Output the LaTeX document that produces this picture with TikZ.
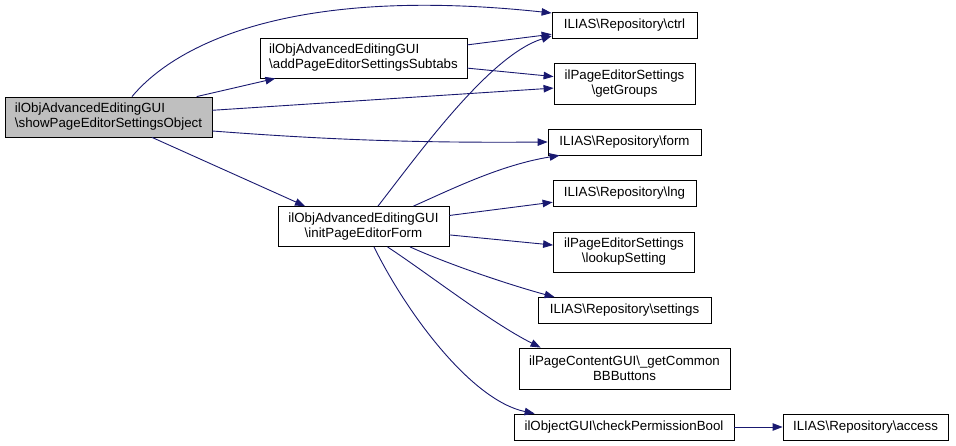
\documentclass[tikz,border=0pt]{standalone}
\usepackage{fontspec}
\setmainfont{Liberation Sans}
\usetikzlibrary{arrows.meta,calc}
\definecolor{edgeblue}{HTML}{191970}
\definecolor{boxgray}{HTML}{BFBFBF}
\newcommand\bs{\textbackslash}
\begin{document}
\begin{tikzpicture}[x=1bp,y=-1bp,
  box/.style={draw=black,line width=0.8bp,fill=white,inner sep=0pt,
    font=\fontsize{13.3bp}{15bp}\selectfont,align=center},
  lbox/.style={box,align=left},
  edge/.style={draw=edgeblue,line width=0.9bp,
    -{Triangle[length=10bp,width=7.5bp,fill=edgeblue]}}]
\useasboundingbox (0,0) rectangle (956,446);
\node[lbox,fill=boxgray,minimum width=207bp,minimum height=40bp] (main) at (108.5,117)
  {ilObjAdvancedEditingGUI\\\bs showPageEditorSettingsObject};
\node[lbox,minimum width=207bp,minimum height=40bp] (add) at (363.5,58)
  {ilObjAdvancedEditingGUI\\\bs addPageEditorSettingsSubtabs};
\node[box,minimum width=171bp,minimum height=40bp] (init) at (363.5,226.5)
  {ilObjAdvancedEditingGUI\\\bs initPageEditorForm};
\node[box,minimum width=145bp,minimum height=26bp] (ctrl) at (624.5,25)
  {ILIAS\bs Repository\bs ctrl};
\node[box,minimum width=141bp,minimum height=41bp] (groups) at (624.5,83.5)
  {ilPageEditorSettings\\\bs getGroups};
\node[box,minimum width=153bp,minimum height=26bp] (form) at (624.5,142)
  {ILIAS\bs Repository\bs form};
\node[box,minimum width=143bp,minimum height=26bp] (lng) at (624.5,193)
  {ILIAS\bs Repository\bs lng};
\node[box,minimum width=141bp,minimum height=40bp] (lookup) at (624,252)
  {ilPageEditorSettings\\\bs lookupSetting};
\node[box,minimum width=173bp,minimum height=26bp] (settings) at (624.5,310.5)
  {ILIAS\bs Repository\bs settings};
\node[box,minimum width=211bp,minimum height=41bp] (common) at (624.5,368.5)
  {ilPageContentGUI\bs\_getCommon\\BBButtons};
\node[box,minimum width=220bp,minimum height=26bp] (perm) at (624,427)
  {ilObjectGUI\bs checkPermissionBool};
\node[box,minimum width=165bp,minimum height=26bp] (access) at (865.5,427)
  {ILIAS\bs Repository\bs access};

% edges from main
\draw[edge] ($(main.north)+(23.5,0)$) .. controls (175,45) and (290,-15) .. ($(ctrl.west)+(0,-12)$);
\draw[edge] (main) -- (add);
\draw[edge] (main) -- (groups);
\draw[edge] ($(main.east)+(0,14)$) .. controls (330,140) and (420,143) .. (form.west);
\draw[edge] ($(main.south)+(43.5,0)$) -- ($(init.north)+(-58.5,0)$);
% edges from add
\draw[edge] (add) -- (ctrl);
\draw[edge] (add) -- (groups);
% edges from init
\draw[edge] ($(init.north)+(14.5,0)$) .. controls (420,152) and (490,55) .. ($(ctrl.west)+(0,11)$);
\draw[edge] ($(init.north)+(50,0)$) .. controls (450,190) and (500,165) .. ($(form.south west)+(12,0)$);
\draw[edge] (init) -- (lng);
\draw[edge] (init) -- (lookup);
\draw[edge] ($(init.south)+(46.5,0)$) .. controls (450,265) and (510,285) .. ($(settings.north west)+(17,0)$);
\draw[edge] ($(init.south)+(24,0)$) .. controls (430,275) and (490,322) .. ($(common.north west)+(22,0)$);
\draw[edge] ($(init.south)+(10.5,0)$) .. controls (405,310) and (470,400) .. ($(perm.north west)+(21,0)$);
% edge from perm
\draw[edge] (perm) -- (access);
\end{tikzpicture}
\end{document}
